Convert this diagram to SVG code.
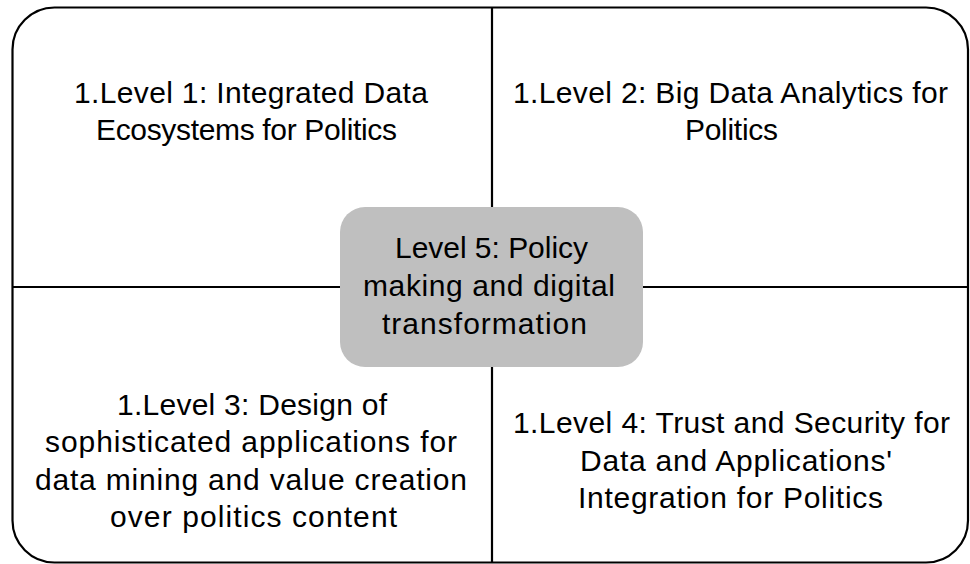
<svg xmlns="http://www.w3.org/2000/svg" width="970" height="564" viewBox="0 0 970 564">
<style>
.t{font-family:"Liberation Sans",Arial,sans-serif;font-size:30px;fill:#000;text-anchor:middle}
.ln{stroke:#000;stroke-width:2.2;fill:none}
</style>
<rect width="970" height="564" fill="#fff"/>
<g id="frame">
<rect x="12.5" y="7.5" width="955.5" height="555" rx="42" ry="42" class="ln"/>
</g>
<g id="connectors">
<line x1="492" y1="7.5" x2="492" y2="562.5" class="ln"/>
<line x1="12.5" y1="287" x2="968" y2="287" class="ln"/>
</g>
<g id="q1">
<text class="t" x="251" y="103" textLength="354">1.Level 1: Integrated Data</text>
<text class="t" x="246.5" y="140" textLength="301">Ecosystems for Politics</text>
</g>
<g id="q2">
<text class="t" x="730.5" y="103" textLength="435">1.Level 2: Big Data Analytics for</text>
<text class="t" x="731.5" y="140" textLength="93">Politics</text>
</g>
<g id="q3">
<text class="t" x="252" y="415" textLength="270">1.Level 3: Design of</text>
<text class="t" x="251" y="452" textLength="412">sophisticated applications for</text>
<text class="t" x="251" y="490" textLength="432">data mining and value creation</text>
<text class="t" x="253.5" y="527" textLength="287">over politics content</text>
</g>
<g id="q4">
<text class="t" x="731.5" y="433" textLength="437">1.Level 4: Trust and Security for</text>
<text class="t" x="736" y="470.5" textLength="312">Data and Applications'</text>
<text class="t" x="730.5" y="508" textLength="305">Integration for Politics</text>
</g>
<g id="center">
<rect x="340" y="207" width="303" height="160" rx="25" ry="25" fill="#bfbfbf"/>
<text class="t" x="491.5" y="258" textLength="193">Level 5: Policy</text>
<text class="t" x="489" y="296" textLength="252">making and digital</text>
<text class="t" x="484.5" y="334" textLength="205">transformation</text>
</g>
</svg>
